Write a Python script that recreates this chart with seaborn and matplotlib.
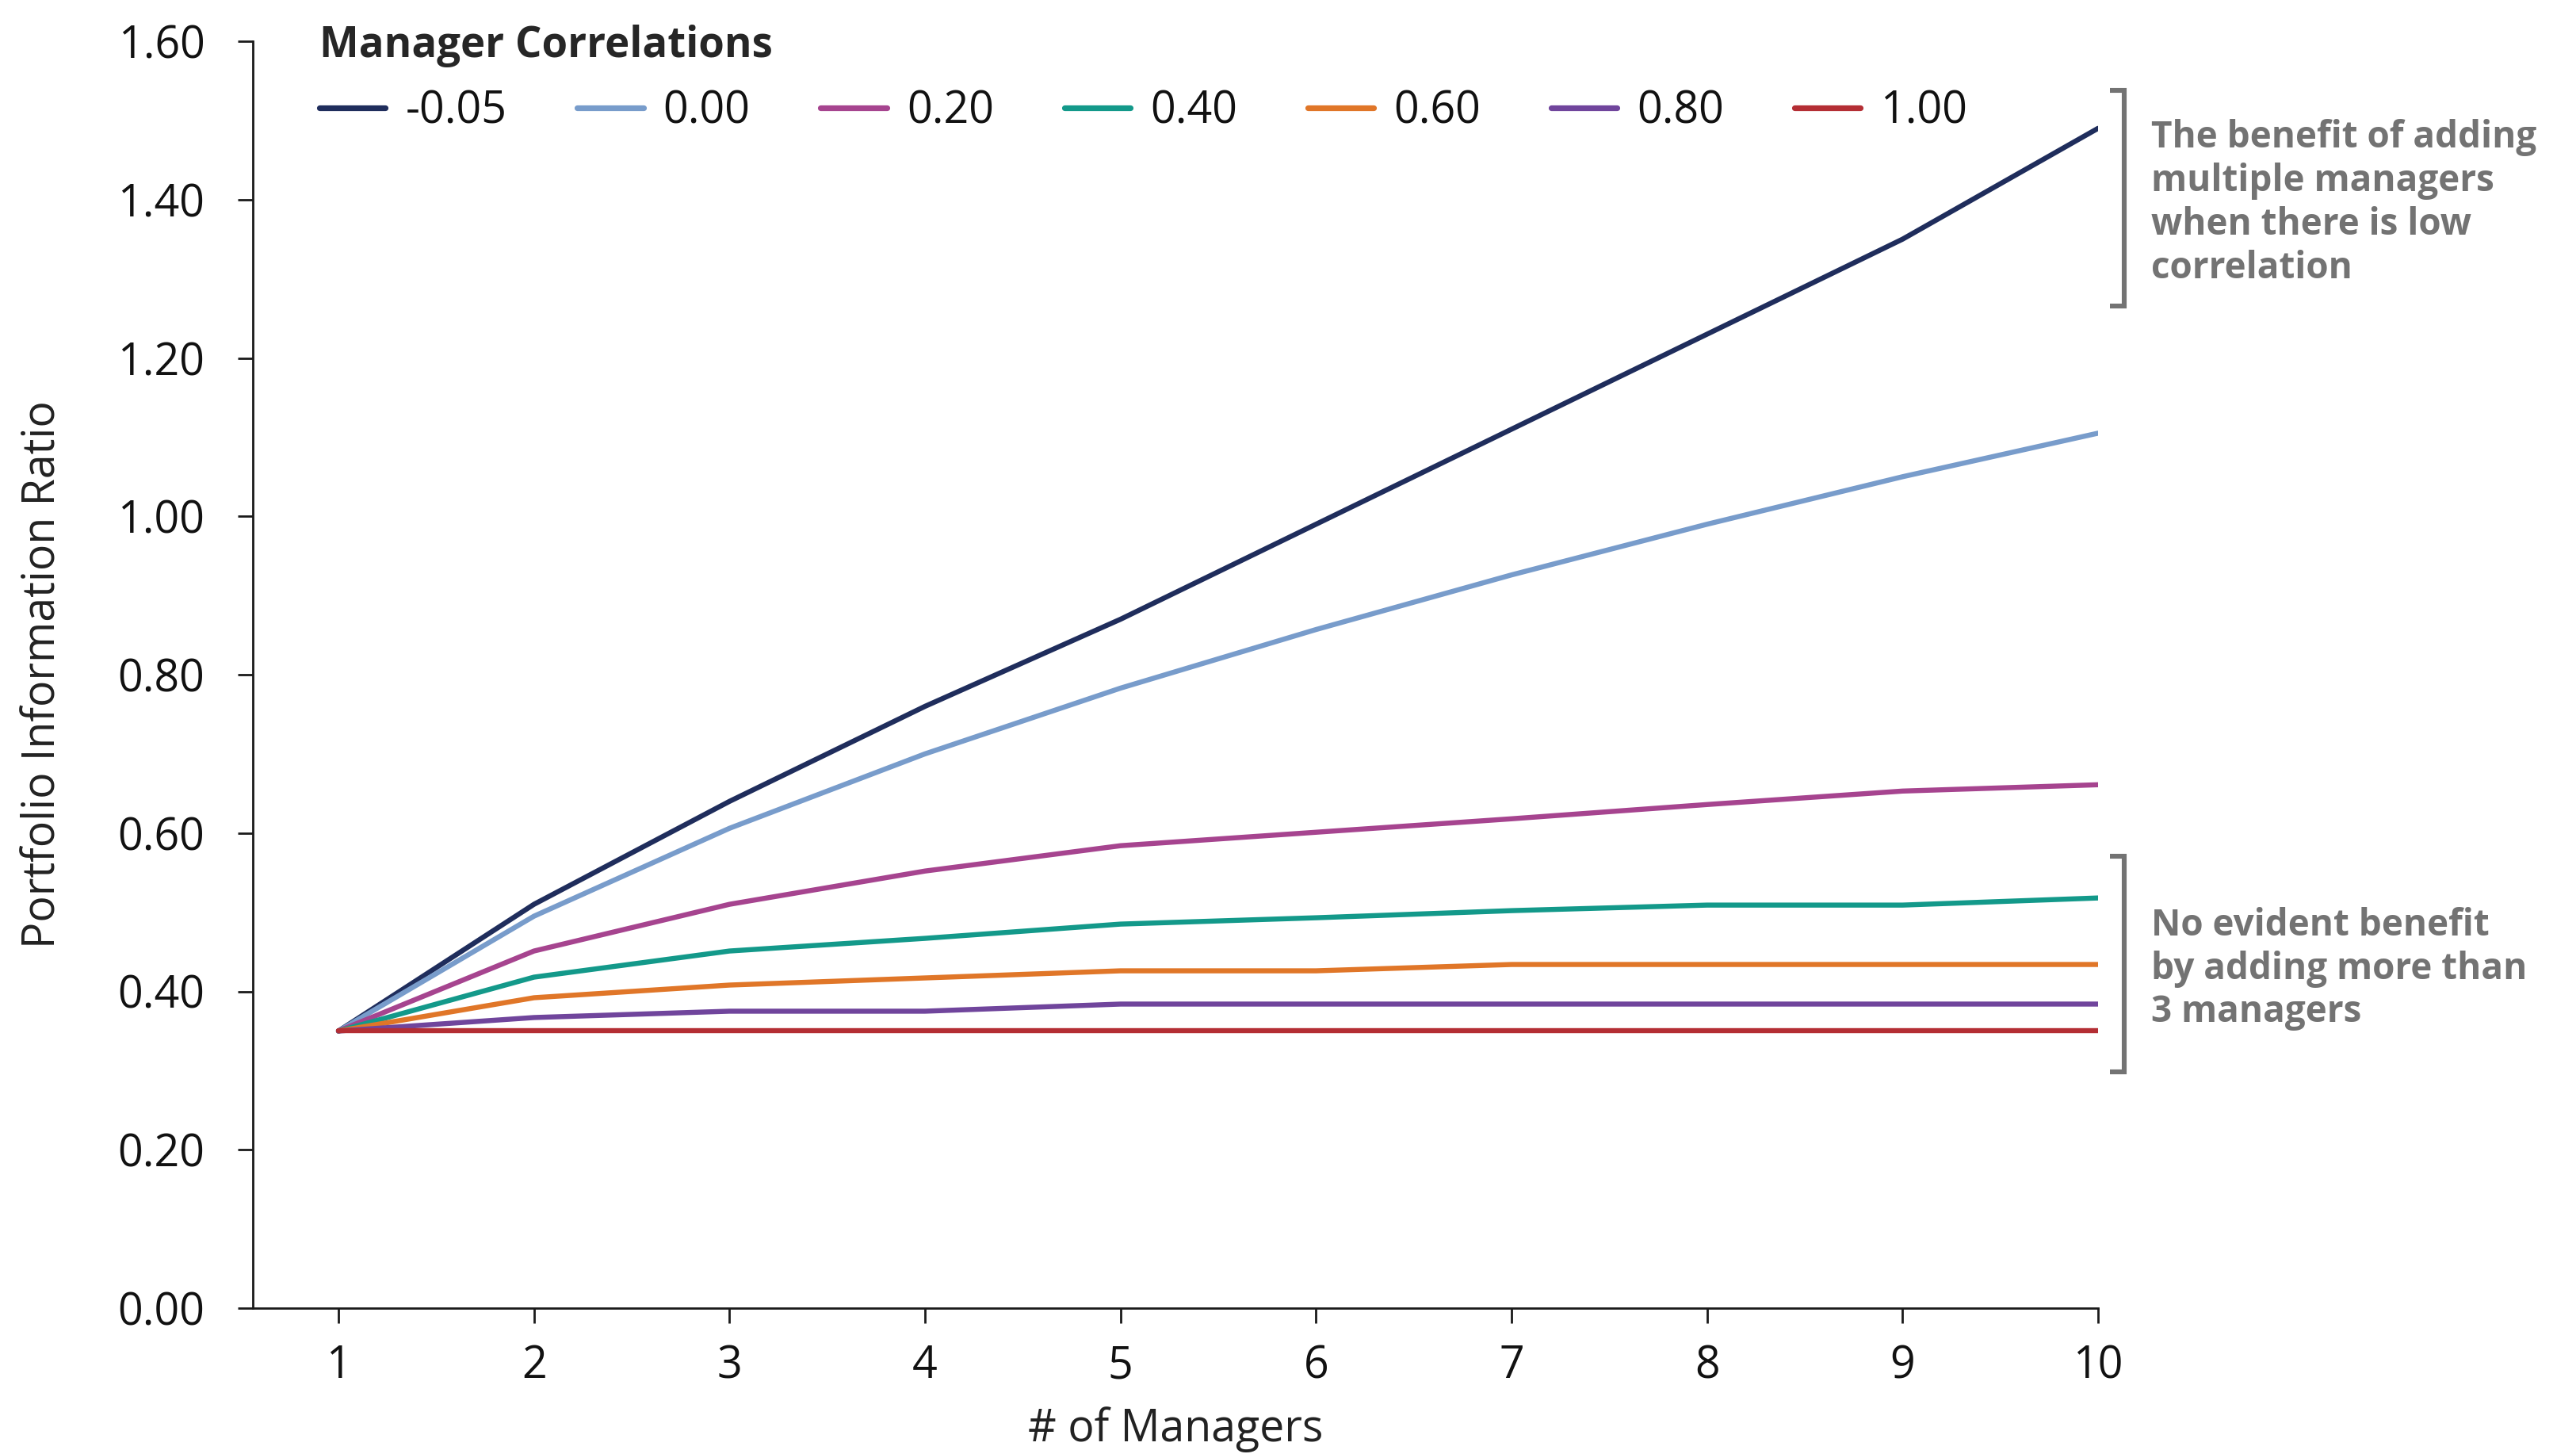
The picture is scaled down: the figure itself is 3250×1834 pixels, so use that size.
import numpy as np
import pandas as pd
import matplotlib
matplotlib.use("Agg")
import matplotlib.pyplot as plt
import seaborn as sns
from matplotlib.lines import Line2D

# ---------------- data ----------------
managers = [1, 2, 3, 4, 5, 6, 7, 8, 9, 10]
correlation_labels = ["-0.05", "0.00", "0.20", "0.40", "0.60", "0.80", "1.00"]
ir_neg005 = [0.35, 0.51, 0.64, 0.76, 0.87, 0.99, 1.11, 1.23, 1.35, 1.49]
ir_000 = [0.35, 0.495, 0.606, 0.70, 0.783, 0.857, 0.926, 0.99, 1.05, 1.105]
ir_020 = [0.35, 0.451, 0.51, 0.552, 0.584, 0.601, 0.618, 0.636, 0.653, 0.661]
ir_040 = [0.35, 0.418, 0.451, 0.467, 0.485, 0.493, 0.502, 0.509, 0.509, 0.518]
ir_060 = [0.35, 0.392, 0.408, 0.417, 0.426, 0.426, 0.434, 0.434, 0.434, 0.434]
ir_080 = [0.35, 0.367, 0.375, 0.375, 0.384, 0.384, 0.384, 0.384, 0.384, 0.384]
ir_100 = [0.35, 0.35, 0.35, 0.35, 0.35, 0.35, 0.35, 0.35, 0.35, 0.35]
series_values = [ir_neg005, ir_000, ir_020, ir_040, ir_060, ir_080, ir_100]
line_colors = ["#1f2d5c", "#789ccb", "#a6448f", "#13998a", "#e07628", "#70459c", "#b42e34"]
y_ticks = [0.0, 0.2, 0.4, 0.6, 0.8, 1.0, 1.2, 1.4, 1.6]
y_tick_labels = ["0.00", "0.20", "0.40", "0.60", "0.80", "1.00", "1.20", "1.40", "1.60"]
note_top = "The benefit of adding\nmultiple managers\nwhen there is low\ncorrelation"
note_bottom = "No evident benefit\nby adding more than\n3 managers"

rows = []
for lab, vals in zip(correlation_labels, series_values):
    for m, v in zip(managers, vals):
        rows.append({"managers": m, "ir": v, "corr": lab})
df = pd.DataFrame(rows)
palette = dict(zip(correlation_labels, line_colors))

# ---------------- style ----------------
sns.set_theme(style="ticks")
plt.rcParams["font.family"] = ["Open Sans", "DejaVu Sans"]
plt.rcParams["axes.facecolor"] = "white"
plt.rcParams["figure.facecolor"] = "white"

W, H = 3250, 1834
fig = plt.figure(figsize=(W / 200, H / 200), dpi=200)
ax_l, ax_r, ax_t, ax_b = 319, 2647, 52, 1650
ax = fig.add_axes([ax_l / W, 1 - ax_b / H, (ax_r - ax_l) / W, (ax_b - ax_t) / H])

sns.lineplot(data=df, x="managers", y="ir", hue="corr", hue_order=correlation_labels,
             palette=palette, linewidth=2.3, ax=ax, legend=True)

ax.set_xlim(0.562, 10)
ax.set_ylim(0, 1.6)
ax.set_xticks(managers)
ax.set_xticklabels([str(m) for m in managers])
ax.set_yticks(y_ticks)
ax.set_yticklabels(y_tick_labels)

for s in ["top", "right"]:
    ax.spines[s].set_visible(False)
for s in ["left", "bottom"]:
    ax.spines[s].set_linewidth(1.0)
    ax.spines[s].set_color("#1a1a1a")

ax.tick_params(axis="both", which="major", length=6.8, width=1.0, color="#1a1a1a",
               labelsize=20, labelcolor="#111111", direction="out")
ax.tick_params(axis="x", pad=9.5)
ax.tick_params(axis="y", pad=15)

ax.set_xlabel("# of Managers", fontsize=20, color="#222222", va="center")
ax.set_ylabel("Portfolio Information Ratio", fontsize=20, color="#222222", va="center")
ax.xaxis.set_label_coords(0.5, (ax_b - 1803) / (ax_b - ax_t))
ax.yaxis.set_label_coords((55 - ax_l) / (ax_r - ax_l), 0.5)
ax.grid(False)

handles, labels = ax.get_legend_handles_labels()
leg = ax.legend(handles, labels, loc="upper left", bbox_to_anchor=(403 / W, 1 - 31 / H),
                bbox_transform=fig.transFigure, ncol=7, frameon=False,
                title="Manager Correlations", alignment="left",
                title_fontproperties={"weight": "bold", "size": 19},
                fontsize=20, handlelength=1.5, handletextpad=0.45, columnspacing=1.6,
                borderpad=0, borderaxespad=0)
for t in leg.get_texts():
    t.set_color("#111111")
for h in leg.get_lines():
    h.set_linewidth(2.6)

# ---------------- annotations ----------------
grey = "#737373"
def bracket(top, bottom):
    x = 2680 / W
    x0 = 2662 / W
    yt = 1 - top / H
    yb = 1 - bottom / H
    fig.add_artist(Line2D([x0, x, x, x0], [yt, yt, yb, yb], transform=fig.transFigure,
                          color=grey, linewidth=2.2, solid_joinstyle="miter",
                          solid_capstyle="butt"))

bracket(114, 386)
bracket(1080, 1352)
fig.text(2714 / W, 1 - 256 / H, note_top, fontsize=16.5, fontweight="bold", color=grey,
         ha="left", va="center", linespacing=1.22)
fig.text(2714 / W, 1 - 1222 / H, note_bottom, fontsize=16.5, fontweight="bold", color=grey,
         ha="left", va="center", linespacing=1.22)

fig.savefig("out.png", dpi=200, facecolor="white")
